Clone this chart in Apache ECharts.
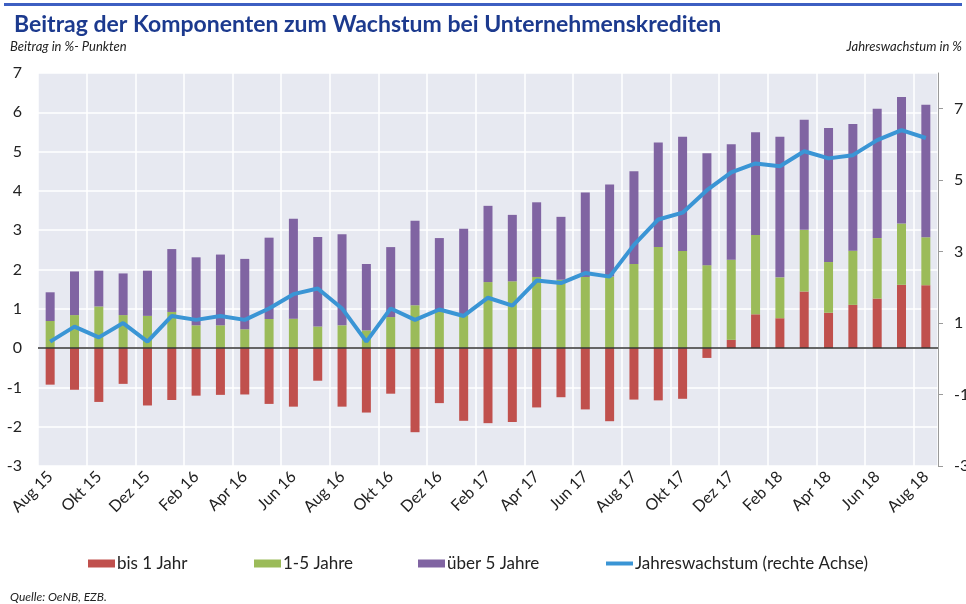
<!DOCTYPE html>
<html>
<head>
<meta charset="utf-8">
<script src="https://cdn.jsdelivr.net/npm/echarts@6/dist/echarts.min.js"></script>
<style>
html,body{margin:0;padding:0;background:#fff;}
#chart{width:966px;height:604px;}
</style>
</head>
<body>
<div id="chart"></div>
<script>
var categories = ['Aug 15','Sep 15','Okt 15','Nov 15','Dez 15','Jan 16','Feb 16','Mär 16','Apr 16','Mai 16','Jun 16','Jul 16',
  'Aug 16','Sep 16','Okt 16','Nov 16','Dez 16','Jan 17','Feb 17','Mär 17','Apr 17','Mai 17','Jun 17','Jul 17',
  'Aug 17','Sep 17','Okt 17','Nov 17','Dez 17','Jan 18','Feb 18','Mär 18','Apr 18','Mai 18','Jun 18','Jul 18','Aug 18'];

var bis1Jahr = [-0.93,-1.06,-1.37,-0.91,-1.46,-1.32,-1.21,-1.19,-1.18,-1.42,-1.49,-0.83,
  -1.49,-1.64,-1.16,-2.14,-1.40,-1.85,-1.91,-1.88,-1.51,-1.25,-1.56,-1.86,
  -1.31,-1.33,-1.29,-0.25,0.21,0.86,0.76,1.44,0.90,1.10,1.26,1.61,1.60];

var jahre1bis5 = [0.69,0.84,1.06,0.84,0.82,0.92,0.58,0.58,0.48,0.74,0.75,0.55,
  0.58,0.45,0.79,1.09,0.92,0.84,1.68,1.70,1.81,1.74,1.81,1.82,
  2.14,2.57,2.47,2.11,2.04,2.02,1.04,1.57,1.29,1.38,1.54,1.56,1.22];

var ueber5Jahre = [0.73,1.11,0.91,1.06,1.15,1.60,1.73,1.80,1.79,2.07,2.54,2.28,
  2.32,1.69,1.78,2.15,1.88,2.20,1.94,1.69,1.90,1.60,2.15,2.34,
  2.36,2.66,2.91,2.85,2.94,2.61,3.58,2.80,3.41,3.22,3.29,3.22,3.37];

var jahreswachstum = [0.48,0.90,0.60,1.00,0.48,1.20,1.09,1.20,1.09,1.41,1.81,1.97,
  1.41,0.48,1.41,1.09,1.38,1.20,1.71,1.49,2.19,2.12,2.40,2.30,
  3.19,3.90,4.09,4.72,5.22,5.47,5.39,5.81,5.61,5.70,6.12,6.40,6.18];

var leftTicks = {min: -3, max: 7, interval: 1};
var rightTicks = {min: -3, max: 8, interval: 2};

var FONT = 'Lato';
var chart = echarts.init(document.getElementById('chart'));

function legendFor(name, left, icon, h) {
  return {
    data: [name], left: left, top: 550, icon: icon, itemWidth: 27, itemHeight: h, itemGap: 0,
    selectedMode: false,
    textStyle: {fontFamily: FONT, fontSize: 17, color: '#222', padding: [0, 0, 0, -3]}
  };
}

chart.setOption({
  animation: false,
  title: {
    text: 'Beitrag der Komponenten zum Wachstum bei Unternehmenskrediten',
    left: 9, top: 8,
    textStyle: {fontFamily: FONT, fontSize: 23, fontWeight: 'bold', color: '#1c3a8e'}
  },
  graphic: [
    {type: 'rect', shape: {x: 4, y: 3, width: 958, height: 3}, style: {fill: '#3d5fc2'}},
    {type: 'text', left: 10, top: 40, style: {text: 'Beitrag in %- Punkten', font: 'italic 13px Lato', fill: '#222'}},
    {type: 'text', right: 4, top: 40, style: {text: 'Jahreswachstum in %', font: 'italic 13px Lato', fill: '#222'}},
    {type: 'text', left: 10, top: 591, style: {text: 'Quelle: OeNB, EZB.', font: 'italic 12px Lato', fill: '#222'}}
  ],
  legend: [
    legendFor('bis 1 Jahr', 83, 'rect', 8),
    legendFor('1-5 Jahre', 249, 'rect', 8),
    legendFor('über 5 Jahre', 413, 'rect', 8),
    legendFor('Jahreswachstum (rechte Achse)', 601, 'rect', 4)
  ],
  grid: {
    left: 38, right: 28, top: 73, bottom: 138,
    containLabel: false, outerBoundsMode: 'none',
    show: true, backgroundColor: '#e7e9f1', borderWidth: 0
  },
  xAxis: {
    type: 'category', data: categories, boundaryGap: true,
    axisLine: {show: false}, axisTick: {show: false},
    axisLabel: {interval: 1, rotate: 45, margin: 8, fontFamily: FONT, fontSize: 16, color: '#222'},
    splitLine: {show: true, interval: 1, lineStyle: {color: '#ffffff', width: 1.5}}
  },
  yAxis: [
    {
      type: 'value', min: leftTicks.min, max: leftTicks.max, interval: leftTicks.interval,
      axisLine: {show: false}, axisTick: {show: false},
      axisLabel: {margin: 16, fontFamily: FONT, fontSize: 16, color: '#222'},
      splitLine: {show: true, lineStyle: {color: '#ffffff', width: 1.5}}
    },
    {
      type: 'value', position: 'right', min: rightTicks.min, max: rightTicks.max, interval: rightTicks.interval,
      axisLine: {show: true, lineStyle: {color: '#9a9a9a', width: 1}},
      axisTick: {show: true, length: 5, lineStyle: {color: '#9a9a9a'}},
      axisLabel: {margin: 16, showMaxLabel: false, fontFamily: FONT, fontSize: 16, color: '#222'},
      splitLine: {show: false}
    }
  ],
  series: [
    {
      name: 'bis 1 Jahr', type: 'bar', stack: 'k', data: bis1Jahr, barWidth: 9,
      itemStyle: {color: '#c0504d'},
      markLine: {
        silent: true, symbol: 'none', label: {show: false},
        lineStyle: {color: '#333', width: 1.5, type: 'solid'},
        data: [{yAxis: 0}]
      }
    },
    {name: '1-5 Jahre', type: 'bar', stack: 'k', data: jahre1bis5, barWidth: 9, itemStyle: {color: '#9bbb59'}},
    {name: 'über 5 Jahre', type: 'bar', stack: 'k', data: ueber5Jahre, barWidth: 9, itemStyle: {color: '#8064a2'}},
    {
      name: 'Jahreswachstum (rechte Achse)', type: 'line', yAxisIndex: 1, data: jahreswachstum,
      symbol: 'none', z: 5,
      lineStyle: {color: '#3a95d5', width: 4}, itemStyle: {color: '#3a95d5'}
    }
  ]
});
</script>
</body>
</html>
